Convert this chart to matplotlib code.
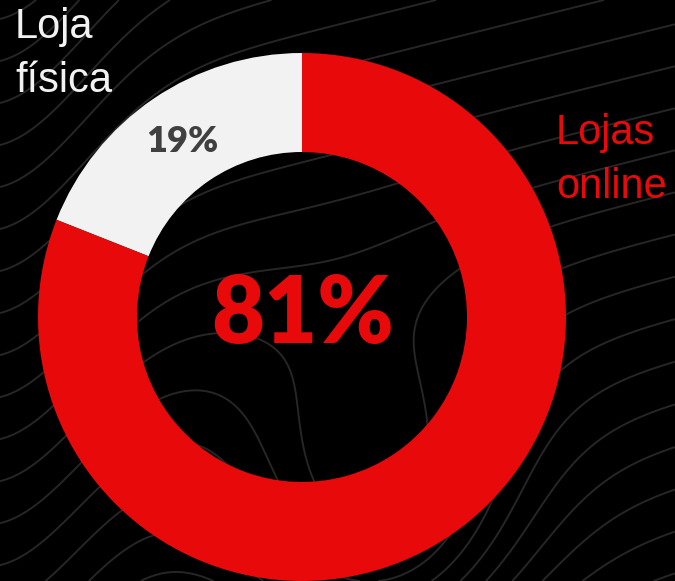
import matplotlib.pyplot as plt
import numpy as np

# donut data
labels = ["Loja física", "Lojas online"]
shares = [19, 81]
colors = ["#f2f2f2", "#e80a0a"]

W, H = 675, 581
fig = plt.figure(figsize=(W / 100, H / 100), dpi=100, facecolor="black")
ax = fig.add_axes([0, 0, 1, 1])
ax.set_facecolor("black")

# faint decorative contour lines in the background
gx, gy = np.meshgrid(np.linspace(0, W, 300), np.linspace(0, H, 260))
field = gy + 260 * np.exp(-((gx - 380) ** 2) / 2.0e4 - ((gy - 60) ** 2) / 3.0e4) \
    - 0.25 * gx + 120 * np.exp(-(gx ** 2) / 1.5e4)
ax.contour(gx, gy, field, levels=np.arange(-200, 800, 42),
           colors="#262626", linewidths=1.4, linestyles="solid", zorder=0)

cx, cy, r = 302, H - 317, 264
ax.pie(shares, colors=colors, startangle=90, counterclock=True,
       center=(cx, cy), radius=r,
       wedgeprops=dict(width=99, edgecolor="none"))
ax.set_xlim(0, W)
ax.set_ylim(0, H)
ax.set_aspect("auto")
ax.axis("off")

ax.text(cx + 1, cy + 1, f"{shares[1]}%", ha="center", va="center",
        color=colors[1], fontsize=66, fontweight="heavy", family="Lato")
ax.text(182, H - 141, f"{shares[0]}%", ha="center", va="center",
        color="#404040", fontsize=26, fontweight="heavy", family="Lato")

ax.text(15, H - 92, "Loja\nfísica", ha="left", va="baseline",
        color="#f2f2f2", fontsize=30, family="Liberation Sans", linespacing=1.45)
ax.text(556, H - 198, "Lojas\nonline", ha="left", va="baseline",
        color=colors[1], fontsize=30, family="Liberation Sans", linespacing=1.45)

fig.savefig("out.png", dpi=100, facecolor="black")
